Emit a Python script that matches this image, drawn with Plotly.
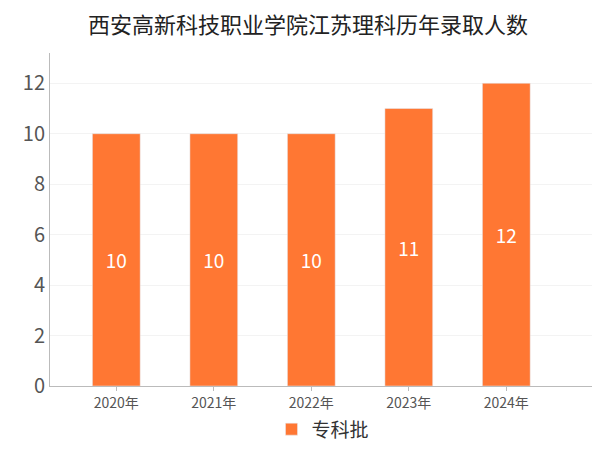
import plotly.graph_objects as go

years = ["2020年", "2021年", "2022年", "2023年", "2024年"]
values = [10, 10, 10, 11, 12]

fig = go.Figure(go.Bar(
    x=years, y=values, name="专科批", marker_color="#FF7733", width=0.49,
    text=values, textposition="inside", insidetextanchor="middle",
    textfont=dict(color="white", size=19), showlegend=True))
fig.update_layout(
    width=600, height=450, plot_bgcolor="white", paper_bgcolor="white",
    font=dict(family="Noto Sans CJK SC, sans-serif", color="#333"),
    title=dict(text="西安高新科技职业学院江苏理科历年录取人数", x=0.5, y=0.962, xanchor="center",
               yanchor="middle", font=dict(size=22, color="#222")),
    margin=dict(l=42, r=12, t=45, b=72, autoexpand=False),
    xaxis=dict(range=[-0.68, 4.92], showline=True, linecolor="#bbb",
               tickfont=dict(size=14, color="#555"), ticks="outside", ticklen=4, tickcolor="#bbb"),
    yaxis=dict(range=[0, 13.2], dtick=2, showline=True, linecolor="#bbb", gridcolor="#f3f3f3",
               tickfont=dict(size=20, color="#555"), zeroline=False),
    legend=dict(orientation="h", x=0.5, xanchor="center", y=-0.13, yanchor="middle", font=dict(size=19)))
fig.write_html("out.html")
